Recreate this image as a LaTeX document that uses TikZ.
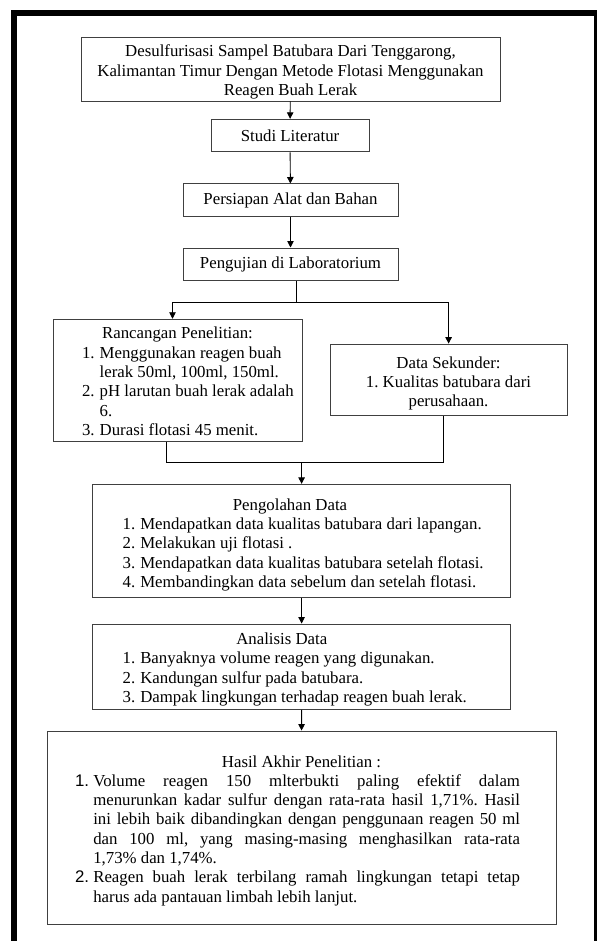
\documentclass[tikz,border=0pt]{standalone}
\usepackage{fontspec}
\setmainfont{Liberation Serif}
\newfontfamily\arialf{Liberation Sans}
\usetikzlibrary{arrows.meta}
\frenchspacing
\newcommand\bodyfont{\fontsize{16.8}{19.3}\selectfont}
\newcommand\lst[1]{\begin{tabular}[t]{@{}p{17.7pt}@{}l@{}}#1\end{tabular}}
\newcommand\hitem[2]{\hangindent=18.3pt\hangafter=1\noindent\makebox[18.3pt][l]{\arialf #1}#2\par}
\begin{document}
\begin{tikzpicture}[x=1pt,y=-1pt,
  box/.style={draw=black!75, line width=0.9pt, inner sep=0pt, font=\bodyfont, text=black},
  arr/.style={-{Triangle[width=6.5pt,length=6.5pt]}, line width=0.9pt},
  con/.style={line width=0.9pt}]
\fill[white] (0,0) rectangle (597,941);
\useasboundingbox (0,0) rectangle (597,941);
% outer frame
\fill[black] (11,10) rectangle (17,941);
\fill[black] (11,10) rectangle (597,16);
\fill[black] (594.3,16) rectangle (596.5,941);

\node[box, minimum width=419pt, minimum height=64pt] (t1) at (290.5,69)
  {\parbox{419pt}{\vspace*{6pt}\centering Desulfurisasi Sampel Batubara Dari Tenggarong,\\Kalimantan Timur Dengan Metode Flotasi Menggunakan\\Reagen Buah Lerak\par}};
\node[box, minimum width=158pt, minimum height=32.7pt] (s1) at (290,135.6) {Studi Literatur};
\node[box, minimum width=215pt, minimum height=32.7pt] (s2) at (290.5,200.3) {Persiapan Alat dan Bahan};
\node[box, minimum width=215pt, minimum height=32.7pt] (s3) at (290.5,264.3) {Pengujian di Laboratorium};

\node[box, minimum width=249pt, minimum height=121.7pt] (rc) at (177.5,380.2)
  {\parbox{191pt}{\vspace*{8pt}\centering Rancangan Penelitian:\par\raggedright\noindent\rlap{\lst{%
   1. & Menggunakan reagen buah\\
      & lerak 50ml, 100ml, 150ml.\\
   2. & pH larutan buah lerak adalah\\
      & 6.\\
   3. & Durasi flotasi 45 menit.}}}};
\node[box, minimum width=237pt, minimum height=71.7pt] (ds) at (448.5,379.9)
  {\parbox{237pt}{\vspace*{7pt}\centering Data Sekunder:\\1. Kualitas batubara dari\\perusahaan.\par}};

\node[box, minimum width=418.2pt, minimum height=113.4pt] (pd) at (301.6,541)
  {\parbox{358pt}{\vspace*{10pt}\centering\hspace*{-23.2pt}Pengolahan Data\par\raggedright\noindent\rlap{\lst{%
   1. & Mendapatkan data kualitas batubara dari lapangan.\\
   2. & Melakukan uji flotasi .\\
   3. & Mendapatkan data kualitas batubara setelah flotasi.\\
   4. & Membandingkan data sebelum dan setelah flotasi.}}}};
\node[box, minimum width=418.2pt, minimum height=85.3pt] (an) at (301.6,666.65)
  {\parbox{358pt}{\vspace*{8pt}\centering\hspace*{-39.6pt}Analisis Data\par\raggedright\noindent\rlap{\lst{%
   1. & Banyaknya volume reagen yang digunakan.\\
   2. & Kandungan sulfur pada batubara.\\
   3. & Dampak lingkungan terhadap reagen buah lerak.}}}};
\node[box, minimum width=509pt, minimum height=193pt] (hs) at (301.5,827.5)
  {\parbox{453pt}{\vspace*{6pt}\hyphenpenalty=10000\exhyphenpenalty=10000\tolerance=10000
   {\centering Hasil Akhir Penelitian :\par}
   \rightskip=8pt\relax
   \hitem{1.}{Volume reagen 150 mlterbukti paling efektif dalam\linebreak
     menurunkan kadar sulfur dengan rata-rata hasil 1,71\%. Hasil\linebreak
     ini lebih baik dibandingkan dengan penggunaan reagen 50 ml\linebreak
     dan 100 ml, yang masing-masing menghasilkan rata-rata\linebreak
     1,73\% dan 1,74\%.}
   \hitem{2.}{Reagen buah lerak terbilang ramah lingkungan tetapi tetap\linebreak
     harus ada pantauan limbah lebih lanjut.}}};

% connectors
\coordinate (j0) at (296,280.65);
\coordinate (j1) at (296,302.3);
\coordinate (jL) at (172.5,302.3);
\coordinate (jR) at (448.6,302.3);
\coordinate (m1) at (166.4,462.3);
\coordinate (m2) at (443,462.3);
\draw[arr] (t1) -- (s1);
\draw[arr] (s1) -- (s2);
\draw[arr] (s2) -- (s3);
\draw[con] (j0 |- s3.south) -- (j1);
\draw[arr] (jR) -- (jL) -- (jL |- rc.north);
\draw[arr] (jL) -- (jR) -- (jR |- ds.north);
\draw[con] (m1 |- rc.south) -- (m1) -- (m2) -- (m2 |- ds.south);
\draw[arr] (pd.north |- m1) -- (pd.north);
\draw[arr] (pd) -- (an);
\draw[arr] (an) -- (hs);
\end{tikzpicture}
\end{document}
